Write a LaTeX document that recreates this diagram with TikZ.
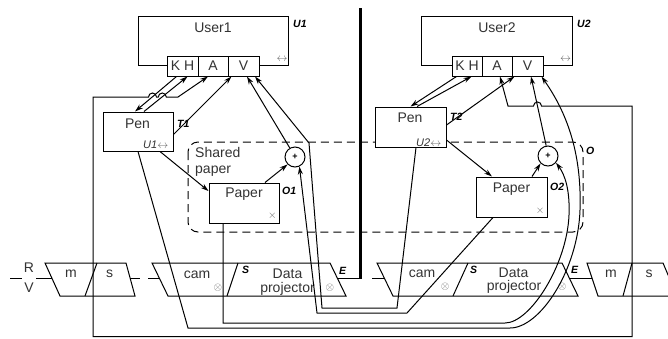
\documentclass[tikz,border=0pt]{standalone}
\usepackage{fontspec}
\setmainfont{Liberation Sans}
\usetikzlibrary{arrows.meta,calc}
\begin{document}
\begin{tikzpicture}[x=1pt,y=-1pt,
  box/.style={draw,line width=1pt,fill=white,inner sep=0pt},
  txt/.style={font=\fontsize{14}{16}\selectfont,text=black!80,inner sep=0pt},
  lab/.style={font=\fontsize{10.5}{12}\selectfont\bfseries\itshape,inner sep=0pt,anchor=base west},
  sym/.style={font=\fontsize{10.5}{10.5}\selectfont,text=black!60,inner sep=0pt},
  wire/.style={line width=1pt},
  arr/.style={wire,-{Stealth[length=8pt,width=5pt]}},
  dashbox/.style={line width=1pt,dash pattern=on 8pt off 5pt,rounded corners=10pt},
  trap/.style={line width=1pt,line join=miter},
]
\useasboundingbox (0,0) rectangle (668,338);
\clip (0,0) rectangle (668,338);

% shared dashed region
\draw[dashbox] (188,142) rectangle (583,232);
\node[txt,anchor=base west] (sh1) at (195,157) {Shared};
\node[txt,anchor=base west] (sh2) at (195,173) {paper};
\node[lab] (ol) at (586,154) {O};

% thick separator
\coordinate (thk) at (360,278);
\draw[line width=3pt] (360,8) -- (thk);

% User1
\node[box,minimum width=150pt,minimum height=49pt] (u1) at (213,40.5) {};
\node[txt,anchor=base] (u1t) at (213,32) {User1};
\node[lab] (u1l) at (293,27) {U1};
\node[sym] (u1s) at (282,59) {$\leftrightarrow$};
\node[box,txt,minimum width=31pt,minimum height=20pt] (kh1) at (182.5,66) {K H};
\node[box,txt,minimum width=30pt,minimum height=20pt] (a1) at (213,66) {A};
\node[box,txt,minimum width=31pt,minimum height=20pt] (v1) at (243.5,66) {V};

% User2
\node[box,minimum width=151pt,minimum height=49pt] (u2) at (496.5,40.5) {};
\node[txt,anchor=base] (u2t) at (497,32) {User2};
\node[lab] (u2l) at (577,27) {U2};
\node[sym] (u2s) at (565.5,59) {$\leftrightarrow$};
\node[box,txt,minimum width=30pt,minimum height=20pt] (kh2) at (467,66) {K H};
\node[box,txt,minimum width=30pt,minimum height=20pt] (a2) at (497,66) {A};
\node[box,txt,minimum width=31pt,minimum height=20pt] (v2) at (527.5,66) {V};

% Pens
\node[box,minimum width=70pt,minimum height=39pt] (pen1) at (138,131.5) {};
\node[txt,anchor=base] (pen1t) at (137.5,128) {Pen};
\node[sym,anchor=base west,font=\fontsize{11}{11}\selectfont] (pen1u) at (143,148) {{\color{black!80}\textit{U1}}$\leftrightarrow$};
\node[lab] (t1) at (177,127) {T1};

\node[box,minimum width=71pt,minimum height=40pt] (pen2) at (410.5,127) {};
\node[txt,anchor=base] (pen2t) at (410,122) {Pen};
\node[sym,anchor=base west,font=\fontsize{11}{11}\selectfont] (pen2u) at (416,146) {{\color{black!80}\textit{U2}}$\leftrightarrow$};
\node[lab] (t2) at (450,120) {T2};

% Papers
\node[box,minimum width=70pt,minimum height=40pt] (pap1) at (244,203) {};
\node[txt,anchor=base] (pap1t) at (244,197) {Paper};
\node[sym] (pap1x) at (272.5,216) {$\times$};
\node[lab] (o1) at (282,194) {O1};

\node[box,minimum width=71pt,minimum height=40pt] (pap2) at (511.5,197) {};
\node[txt,anchor=base] (pap2t) at (511.5,192) {Paper};
\node[sym] (pap2x) at (540,211) {$\times$};
\node[lab] (o2) at (550,190) {O2};

% adders
\node[draw,circle,line width=1pt,fill=white,minimum size=20pt,inner sep=0pt,font=\fontsize{9}{9}\selectfont\bfseries] (add1) at (295,157) {+};
\node[draw,circle,line width=1pt,fill=white,minimum size=20pt,inner sep=0pt,font=\fontsize{9}{9}\selectfont\bfseries] (add2) at (548,156) {+};

% bottom row of blocks
\draw[trap] (45,263) -- (126,263) -- (135,296) -- (60,296) -- cycle;
\draw[trap] (97,263) -- (85,296);
\draw[trap] (152,263) -- (330,263) -- (346,296) -- (168,296) -- cycle;
\draw[trap] (238,263) -- (227,296);
\draw[trap] (377,263) -- (562,263) -- (578,296) -- (393,296) -- cycle;
\draw[trap] (468,263) -- (453,296);
\draw[trap] (587,263) -- (663,263) -- (677,296) -- (598,296) -- cycle;
\draw[trap] (632,263) -- (623,296);

\node[txt,anchor=base] (rr) at (29,272) {R};
\node[txt,anchor=base] (vv) at (29,292) {V};
\node[txt,anchor=base] (m1) at (71,277) {m};
\node[txt,anchor=base] (s1) at (109.5,277) {s};
\node[txt,anchor=base] (cam1) at (197,278) {cam};
\node[txt,anchor=base] (dat1) at (287.5,278) {Data};
\node[txt,anchor=base] (pro1) at (287.5,292) {projector};
\node[txt,anchor=base] (cam2) at (422,277) {cam};
\node[txt,anchor=base] (dat2) at (513.5,277) {Data};
\node[txt,anchor=base] (pro2) at (514,290) {projector};
\node[txt,anchor=base] (m2) at (611,277) {m};
\node[txt,anchor=base] (s2) at (649,277) {s};
\node[lab] (sl1) at (242,273) {S};
\node[lab] (el1) at (339,274) {E};
\node[lab] (sl2) at (470,273) {S};
\node[lab] (el2) at (571,273) {E};
\node[sym] (ox1) at (218,288) {$\otimes$};
\node[sym] (ox2) at (330,288) {$\otimes$};
\node[sym] (ox3) at (445,287) {$\otimes$};
\node[sym] (ox4) at (562,287) {$\otimes$};

\coordinate (rv1) at (10,278);  \coordinate (rv2) at (22,278);
\coordinate (rv3) at (36,278);  \coordinate (ms1l) at (51.8,278);
\coordinate (ms1r) at (130,278); \coordinate (ms1o) at (140,278);
\coordinate (cd1o) at (148,278); \coordinate (cd1l) at (159.3,278);
\coordinate (cd1r) at (337.3,278);
\coordinate (cd2o) at (372,278); \coordinate (cd2l) at (384.3,278);
\coordinate (cd2r) at (569.3,278); \coordinate (ms2l) at (592,278);
\draw[wire] (rv1) -- (rv2);
\draw[wire] (rv3) -- (ms1l);
\draw[wire] (ms1r) -- (ms1o);
\draw[wire] (cd1o) -- (cd1l);
\draw[wire] (cd1r) -- ([xshift=1.5pt]thk);
\draw[wire] (cd2o) -- (cd2l);
\draw[wire] (cd2r) -- (ms2l);

% side 1 connectors
\draw[arr] ([xshift=10pt]kh1.south west) -- ([xshift=-3pt]pen1.north);
\draw[arr] ([xshift=6pt]pen1.north) -- ([xshift=21pt]kh1.south west);
\draw[arr] ([yshift=-3pt]pen1.east) -- ([xshift=4pt]v1.south west);
\draw[arr] ([xshift=22pt]pen1.south) -- ([yshift=12pt]pap1.west);
\draw[arr] ([xshift=21pt]pap1.north) -- (add1.225);
\draw[arr] (add1.120) -- ([xshift=3.5pt]v1.south);

% side 2 connectors
\draw[arr] ([xshift=5pt]kh2.south west) -- (pen2.north);
\draw[arr] ([xshift=6.5pt]pen2.north) -- ([xshift=20pt]kh2.south west);
\draw[arr] ([yshift=2pt]pen2.east) -- ([xshift=3pt]v2.south west);
\draw[arr] ([yshift=-13pt]pen2.east) -- ([xshift=-19.5pt]pap2.north);
\draw[arr] ([xshift=20.5pt]pap2.north) -- (add2.225);
\draw[arr] (add2.100) -- ([xshift=3.5pt]v2.south);

% cross links
\draw[arr] ([xshift=5.5pt]pen2.south) -- (397,308) -- (322,308) -- (309,143) -- ([xshift=11.5pt]v1.south);
\draw[arr] ([xshift=-18.5pt]pap2.south) -- (407,313) -- (317,313) -- (add1.-65);
\draw[arr] (pen1.south) -- (188,328) -- (510,328) .. controls (540,328) and (578,270) .. (580,210) .. controls (582,150) and (565,110) .. ([xshift=-2pt]v2.south east);
\draw[arr] ([xshift=-21pt]pap1.south) -- (223,323) -- (505,323) .. controls (530,323) and (567,265) .. (569,215) .. controls (570,190) and (565,175) .. (add2.-40);

% audio frame
\draw[wire,{Stealth[length=8pt,width=5pt]}-{Stealth[length=8pt,width=5pt]}]
  ([xshift=-5pt]a1.south) -- (178,97) -- (166.3,97) arc[start angle=0,end angle=-180,radius=4]
  -- (156.5,97) arc[start angle=0,end angle=-180,radius=4]
  -- (93,97) -- (93,336.5) -- (632,336.5) -- (632,106)
  -- (541.5,106) arc[start angle=0,end angle=-180,radius=4]
  -- (508,106) -- ([xshift=3pt]a2.south);
\end{tikzpicture}
\end{document}
